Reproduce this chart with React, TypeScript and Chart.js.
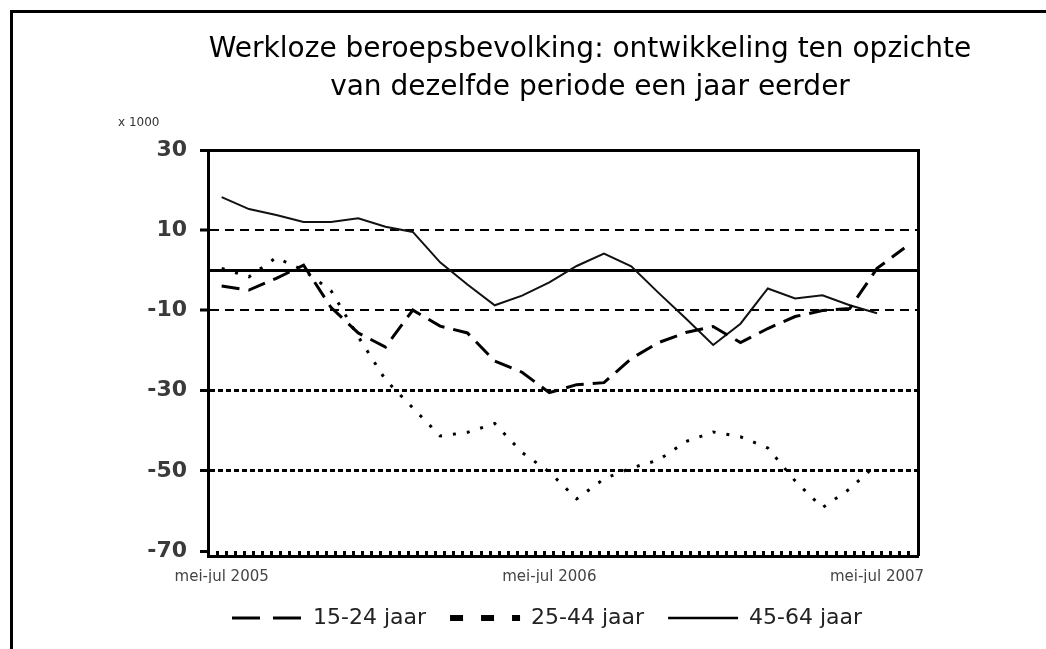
import { useEffect, useRef } from 'react';
import { Chart, registerables } from 'chart.js';

Chart.register(...registerables);

// ---------- data ----------
const periods = [
  'mei-jul 2005', 'jun-aug 2005', 'jul-sep 2005', 'aug-okt 2005', 'sep-nov 2005', 'okt-dec 2005',
  'nov-jan 2006', 'dec-feb 2006', 'jan-mrt 2006', 'feb-apr 2006', 'mrt-mei 2006', 'apr-jun 2006',
  'mei-jul 2006', 'jun-aug 2006', 'jul-sep 2006', 'aug-okt 2006', 'sep-nov 2006', 'okt-dec 2006',
  'nov-jan 2007', 'dec-feb 2007', 'jan-mrt 2007', 'feb-apr 2007', 'mrt-mei 2007', 'apr-jun 2007',
  'mei-jul 2007', 'jun-aug 2007',
];
const shownPeriods = ['mei-jul 2005', 'mei-jul 2006', 'mei-jul 2007'];
const yTickValues = [30, 10, -10, -30, -50, -70];
const seriesNames = ['15-24 jaar', '25-44 jaar', '45-64 jaar'];

const jaar1524 = [
  -3.9, -4.9, -2, 1.3, -9.2, -15.6, -19.1, -9.9, -13.9, -15.6, -22.6, -25.4, -30.5,
  -28.5, -28, -22, -18, -15.5, -14, -18, -14.5, -11.5, -10, -9.5, 0.5, 5.6,
];
const jaar2544 = [
  0.5, -1.6, 3.2, 0, -5, -16.5, -27.3, -34.3, -41.3, -40.4, -38.2, -45.4, -50.3,
  -57, -52, -49.3, -47.3, -42.7, -40.3, -41.5, -44.3, -52.5, -59.2, -54.5, -48.3,
];
const jaar4564 = [
  18.3, 15.3, 13.8, 12.1, 12.1, 13.0, 10.9, 9.6, 2, -3.5, -8.7, -6.3, -3,
  1.1, 4.2, 1, -5.6, -12, -18.6, -13.3, -4.5, -7, -6.2, -8.7, -10.7,
];

const FONT = 'DejaVu Sans';

export default function App() {
  const canvasRef = useRef<HTMLCanvasElement | null>(null);

  useEffect(() => {
    if (!canvasRef.current) return;
    const legendDash = [[28, 13], [13, 18], []];
    const legendWidth = [3, 6, 2.5];

    const chart = new Chart(canvasRef.current, {
      type: 'line',
      data: {
        labels: periods,
        datasets: [
          {
            label: seriesNames[0],
            data: jaar1524,
            borderColor: '#000',
            borderWidth: 3,
            borderDash: [18, 9],
            pointRadius: 0,
            tension: 0,
            fill: false,
            xAxisID: 'x',
            yAxisID: 'y',
          },
          {
            label: seriesNames[1],
            data: jaar2544,
            borderColor: '#000',
            borderWidth: 3,
            borderDash: [3, 11],
            pointRadius: 0,
            tension: 0,
            fill: false,
            xAxisID: 'x',
            yAxisID: 'y',
          },
          {
            label: seriesNames[2],
            data: jaar4564,
            borderColor: '#111',
            borderWidth: 2,
            pointRadius: 0,
            tension: 0,
            fill: false,
            xAxisID: 'x',
            yAxisID: 'y',
          },
        ],
      },
      options: {
        responsive: false,
        animation: false,
        events: [],
        layout: { padding: { left: 118, right: 0, top: 10, bottom: 10 } },
        scales: {
          y: {
            type: 'linear',
            position: 'left',
            min: -70,
            max: 30,
            afterBuildTicks: (s: any) => {
              s.ticks = yTickValues.map((v) => ({ value: v }));
            },
            afterFit: (s: any) => {
              s.width = 90;
            },
            ticks: {
              color: '#3a3a3a',
              padding: 13,
              font: { family: FONT, size: 22, weight: 'bold' },
            },
            grid: {
              color: (ctx: any) => (ctx.tick && ctx.tick.value === -70 ? 'rgba(0,0,0,0)' : '#000'),
              lineWidth: (ctx: any) => {
                const v = ctx.tick ? ctx.tick.value : 0;
                if (v === 30) return 3;
                if (v === 10 || v === -10) return 2;
                return 3;
              },
              tickColor: '#000',
              tickWidth: 3,
              tickLength: 8,
            },
            border: {
              display: true,
              color: '#000',
              width: 3,
              dash: (ctx: any) => {
                const v = ctx.tick ? ctx.tick.value : 0;
                if (v === 10 || v === -10) return [9, 6];
                if (v === -30 || v === -50) return [5, 3];
                return [];
              },
            },
          },
          y0: {
            type: 'linear',
            position: 'left',
            min: -70,
            max: 30,
            afterBuildTicks: (s: any) => {
              s.ticks = [{ value: 0 }];
            },
            afterFit: (s: any) => {
              s.width = 0;
            },
            ticks: { display: false },
            grid: { color: '#000', lineWidth: 3, drawTicks: false },
            border: { display: false },
          },
          yr: {
            type: 'linear',
            position: 'right',
            afterFit: (s: any) => {
              s.width = 144;
            },
            ticks: { display: false },
            grid: { display: false },
            border: { display: true, color: '#000', width: 3 },
          },
          xt: {
            type: 'linear',
            position: 'bottom',
            weight: 0,
            min: 0,
            max: 78,
            ticks: { display: false, stepSize: 1 },
            afterFit: (s: any) => {
              s.height = 5;
            },
            grid: {
              drawOnChartArea: false,
              drawTicks: true,
              tickLength: 5,
              tickWidth: 3,
              tickColor: '#000',
            },
            border: { display: false },
          },
          x: {
            type: 'category',
            position: 'bottom',
            weight: 1,
            offset: true,
            afterFit: (s: any) => {
              s.height = 27;
            },
            grid: { display: false, drawTicks: false },
            border: { display: true, color: '#000', width: 3 },
            ticks: {
              autoSkip: false,
              maxRotation: 0,
              minRotation: 0,
              padding: 12,
              color: '#444',
              font: { family: FONT, size: 15 },
              callback: (_v: any, i: number) => (shownPeriods.includes(periods[i]) ? periods[i] : ''),
            },
          },
        },
        plugins: {
          title: {
            display: true,
            text: [
              'Werkloze beroepsbevolking: ontwikkeling ten opzichte',
              'van dezelfde periode een jaar eerder',
            ],
            color: '#000',
            font: { family: FONT, size: 28, weight: 'normal', lineHeight: 1.36 },
            padding: { top: 21, bottom: 8 },
          },
          subtitle: {
            display: true,
            text: 'x 1000',
            align: 'start',
            color: '#333',
            font: { family: FONT, size: 12, weight: 'normal', lineHeight: 1.2 },
            padding: { top: 1, bottom: 19.6 },
          },
          legend: {
            display: true,
            position: 'bottom',
            align: 'start',
            fullSize: false,
            labels: {
              usePointStyle: true,
              pointStyle: 'line',
              pointStyleWidth: 70,
              boxWidth: 70,
              boxHeight: 22,
              padding: 24,
              color: '#222',
              font: { family: FONT, size: 22 },
              generateLabels: (c: any) => {
                const items = (Chart.defaults.plugins.legend.labels as any).generateLabels(c);
                return items.map((it: any, i: number) => ({
                  ...it,
                  pointStyle: 'line',
                  lineDash: legendDash[i],
                  lineWidth: legendWidth[i],
                  strokeStyle: '#000',
                  fillStyle: '#000',
                }));
              },
            },
          },
          tooltip: { enabled: false },
        },
      },
    } as any);

    return () => {
      chart.destroy();
    };
  }, []);

  return (
    <div
      style={{
        position: 'absolute',
        left: 0,
        top: 0,
        width: 1046,
        height: 649,
        overflow: 'hidden',
        background: '#fff',
      }}
    >
      <canvas
        ref={canvasRef}
        width={1062}
        height={649}
        style={{ position: 'absolute', left: 0, top: 0, width: 1062, height: 649 }}
      />
      <div
        style={{
          position: 'absolute',
          left: 10,
          top: 10,
          right: -20,
          bottom: -20,
          borderTop: '3px solid #000',
          borderLeft: '3px solid #000',
          pointerEvents: 'none',
        }}
      />
    </div>
  );
}
